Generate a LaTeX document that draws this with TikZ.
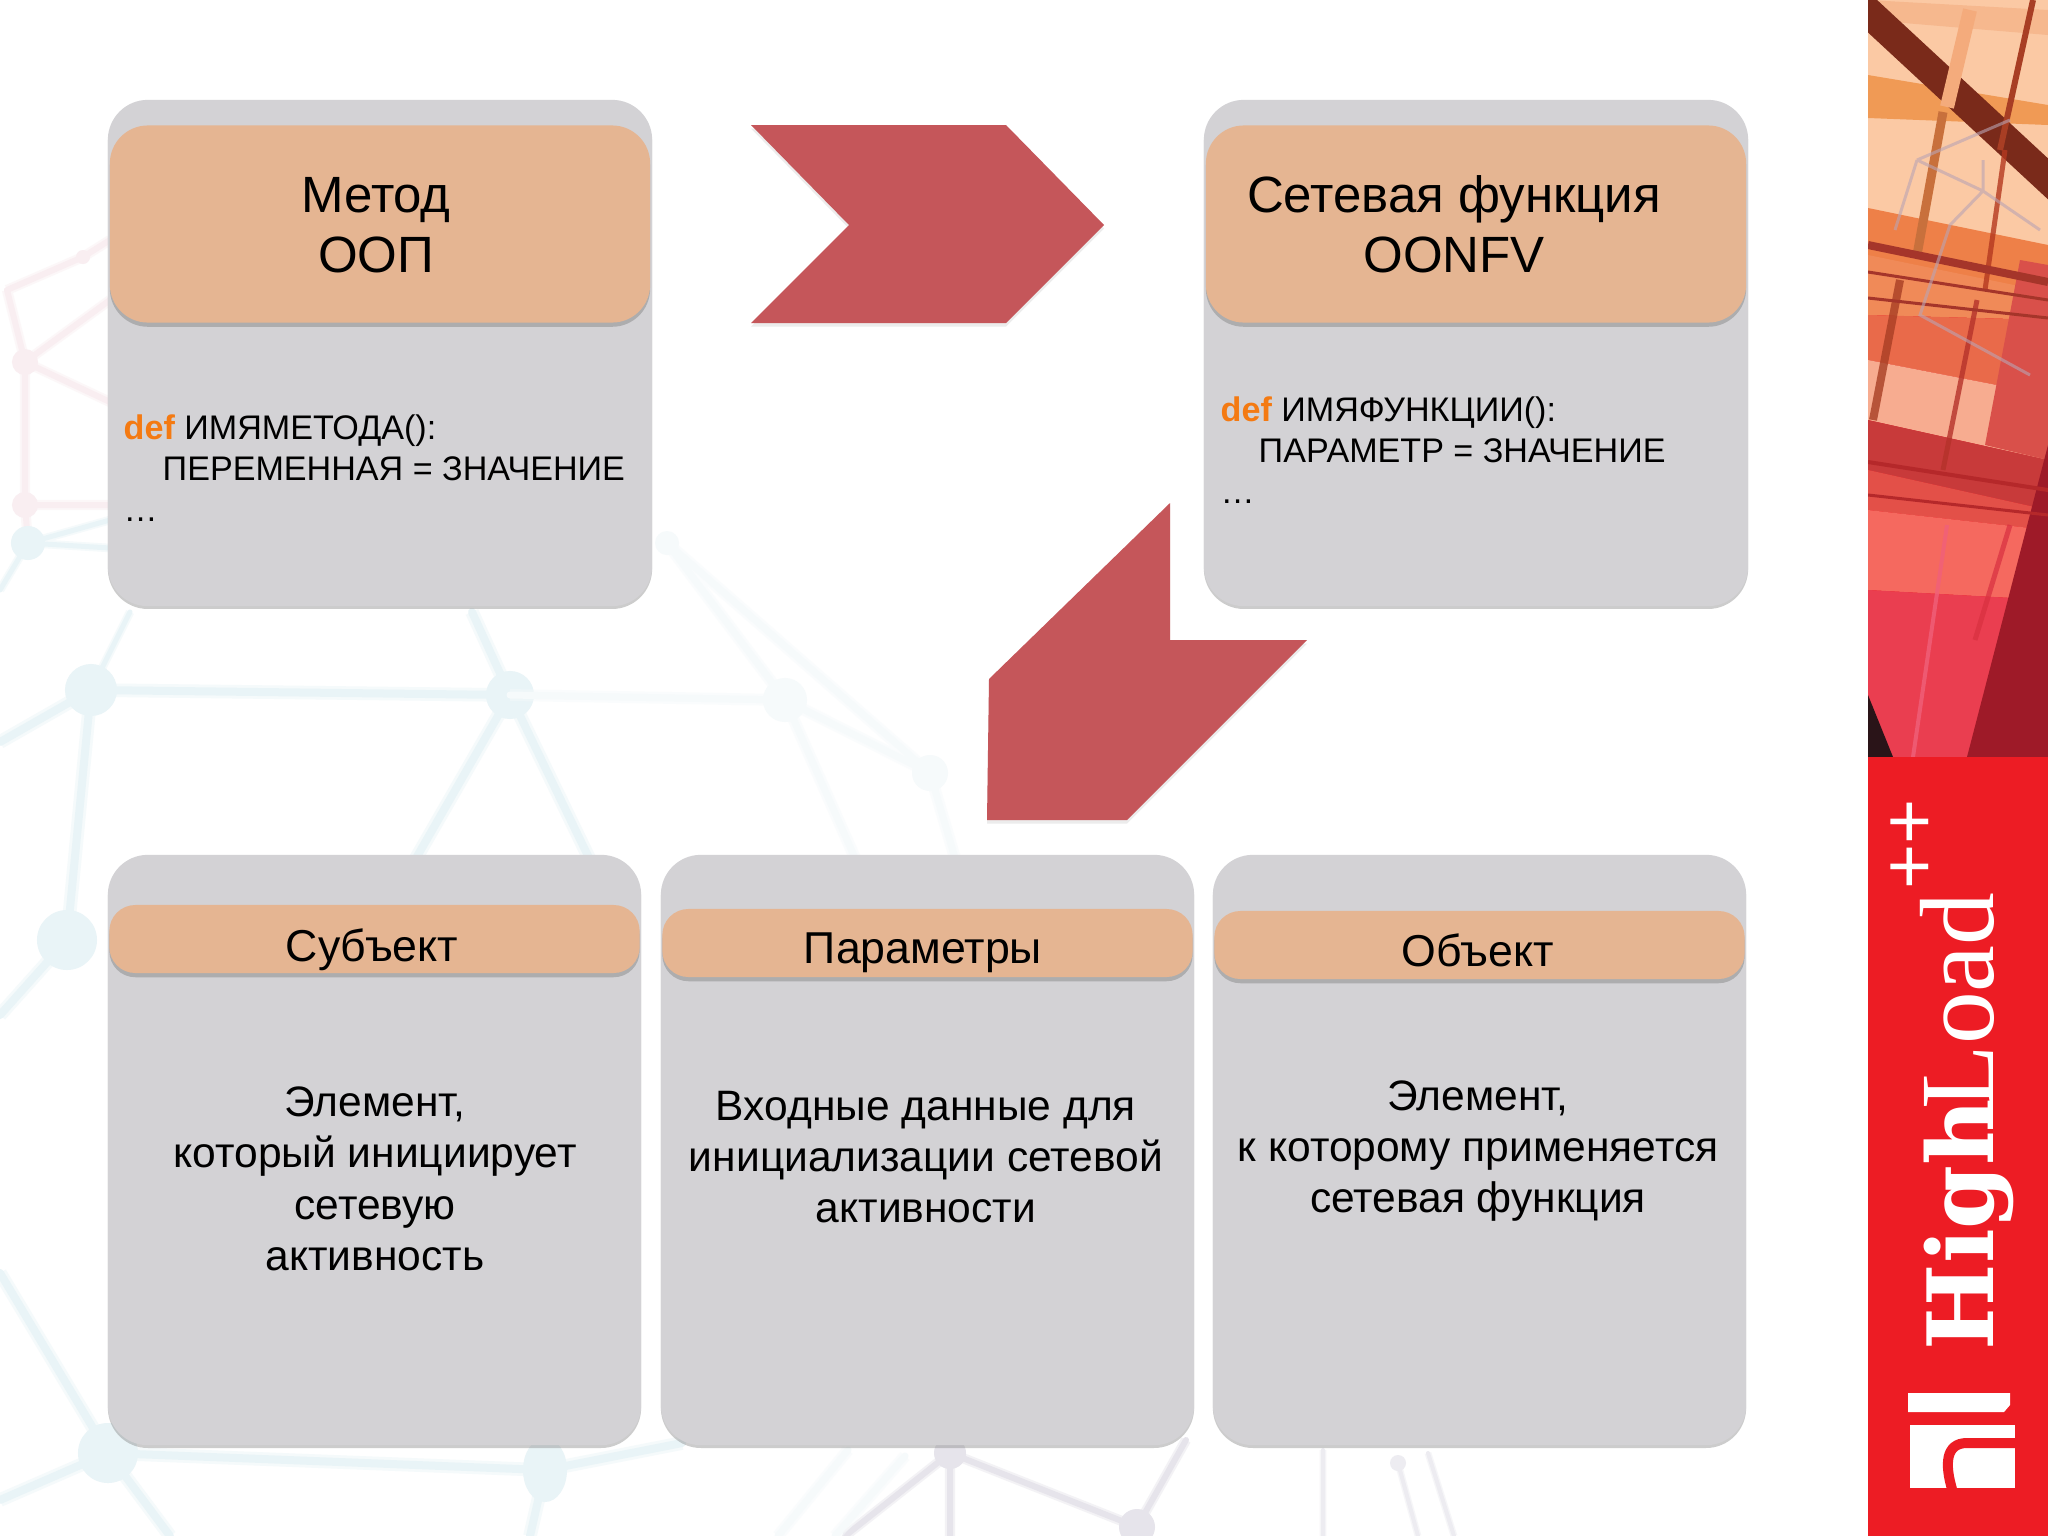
\documentclass[tikz,border=0pt]{standalone}
\usepackage{fontspec}
\setmainfont{Liberation Sans}
\newfontfamily\logoheavy{DejaVu Serif Bold}
\newfontfamily\logolight{Liberation Serif}
\usepackage{xcolor}
\usetikzlibrary{shadows}
\definecolor{cardgrey}{HTML}{D3D2D5}
\definecolor{headpeach}{HTML}{E5B592}
\definecolor{arrowred}{HTML}{C5565A}
\definecolor{codeorange}{HTML}{F47A12}
\definecolor{brandred}{HTML}{ED1C24}
\definecolor{netblue}{HTML}{E9F4F7}
\definecolor{netfaint}{HTML}{F6FAFB}
\definecolor{netpink}{HTML}{F9EEF1}
\definecolor{netgrey}{HTML}{E6E4EB}
\newcommand{\headfont}{\fontsize{14.5}{17.1}\selectfont}
\newcommand{\barfont}{\fontsize{12.7}{14.6}\selectfont}
\newcommand{\bodyfont}{\fontsize{12.1}{14.6}\selectfont}
\newcommand{\codefont}{\fontsize{9.7}{11.6}\selectfont}

\begin{document}
\begin{tikzpicture}[x=0.01cm, y=-0.01cm,
    card/.style={fill=cardgrey, rounded corners=4mm, inner sep=0pt,
        drop shadow={shadow xshift=0pt, shadow yshift=-0.8pt, opacity=0.4}},
    headbar/.style={fill=headpeach, inner sep=0pt,
        drop shadow={shadow xshift=0pt, shadow yshift=-1.2pt, opacity=0.45}},
    bigbar/.style={headbar, rounded corners=3.8mm, minimum width=5.40cm, minimum height=1.97cm},
    smallbar/.style={headbar, rounded corners=2.6mm, minimum height=0.68cm, minimum width=5.30cm},
    blockarrow/.style={fill=arrowred, drop shadow={shadow xshift=0pt, shadow yshift=-1pt, opacity=0.15}},
    caption/.style={align=center, text=black, inner sep=0pt},
    codetext/.style={align=left, anchor=north west, inner sep=0pt, font=\codefont},
    netline/.style 2 args={draw=#1, line width=#2, line cap=round,
        preaction={draw=#1, line width=1.7*#2, opacity=0.45}},
    hex/.code={\definecolor{hexc}{HTML}{#1}\pgfkeysalso{/tikz/color=hexc}},
]
    \useasboundingbox (0,0) rectangle (2048,1536);
    \fill[white] (0,0) rectangle (2048,1536);

    % Background network, left part
    \coordinate (pa) at (25,362);
    \coordinate (pb) at (25,505);
    \coordinate (pc) at (7,290);
    \coordinate (pd) at (83,257);
    \coordinate (na) at (28,543);
    \coordinate (nc) at (91,690);
    \coordinate (nd) at (510,695);
    \coordinate (ne) at (67,940);
    \coordinate (nf) at (108,1453);
    \coordinate (ng) at (545,1470);
    \coordinate (nh) at (682,1443);
    \draw[netline={netpink}{0.6mm}] (pa) -- (pb) (pb) -- (110,505) (pa) -- (110,402) (pa) -- (110,300)
        (pa) -- (pc) (pc) -- (pd) (pd) -- (110,240) (pb) -- (na);
    \draw[netline={netblue}{0.5mm}] (na) -- (110,520) (na) -- (110,548) (na) -- (0,590) (nc) -- (130,612);
    \draw[netline={netblue}{0.8mm}] (nc) -- (0,742) (nc) -- (ne) (nc) -- (nd) (nd) -- (472,612)
        (nd) -- (590,860) (nd) -- (415,860) (ne) -- (0,1015) (0,1273) -- (nf) (nf) -- (0,1500)
        (nf) -- (170,1536) (nf) -- (ng) (ng) -- (530,1536) (ng) -- (nh);
    \fill[netblue] (nc) circle (2.6mm) (nd) circle (2.4mm) (ne) circle (3mm) (nf) circle (3mm)
        (ng) ellipse (2.2mm and 3.2mm) (na) circle (1.7mm);
    \fill[netpink] (pa) circle (1.3mm) (pb) circle (1.3mm) (pd) circle (0.7mm);

    % Background network, faint middle part
    \coordinate (fa) at (667,543);
    \coordinate (fb) at (785,700);
    \coordinate (fc) at (930,773);
    \draw[netline={netfaint}{0.7mm}] (nd) -- (fb) (fa) -- (fc) (fa) -- (fb) (fb) -- (fc) (fb) -- (855,858)
        (fc) -- (955,858);
    \fill[netfaint] (fb) circle (2.2mm) (fc) circle (1.8mm) (fa) circle (1.2mm);

    % Background network, grey part at the bottom
    \coordinate (ga) at (950,1453);
    \coordinate (gb) at (1137,1527);
    \coordinate (gc) at (1398,1463);
    \draw[netline={netgrey}{0.6mm}] (ga) -- (950,1536) (ga) -- (845,1536) (ga) -- (gb) (gb) -- (1186,1440);
    \draw[netline={netfaint}{0.7mm}] (848,1450) -- (778,1536) (905,1456) -- (835,1536);
    \draw[netline={netgrey!70}{0.4mm}] (1323,1450) -- (1323,1536) (gc) -- (1418,1536) (1428,1453) -- (1454,1536);
    \fill[netgrey] (ga) circle (1.6mm) (gb) circle (1.8mm);
    \fill[netgrey!70] (gc) circle (0.8mm);

    % Method card
    \node[card, minimum width=5.44cm, minimum height=5.06cm] (methodcard) at (380,353) {};
    \node[bigbar] (methodbar) at (380,224) {};
    \node[caption, font=\headfont] (methodname) at (376,225) {Метод\\ООП};
    \node[codetext] (methodcode) at (123,414) {\textcolor{codeorange}{\textbf{def}} ИМЯМЕТОДА():\\
        \hspace*{3.9mm}ПЕРЕМЕННАЯ = ЗНАЧЕНИЕ\\ \ldots};

    % Network function card
    \node[card, minimum width=5.44cm, minimum height=5.06cm] (funccard) at (1476,353) {};
    \node[bigbar] (funcbar) at (1476,224) {};
    \node[caption, font=\headfont] (funcname) at (1454,224) {Сетевая функция\\OONFV};
    \node[codetext] (funccode) at (1220,396) {\textcolor{codeorange}{\textbf{def}} ИМЯФУНКЦИИ():\\
        \hspace*{3.8mm}ПАРАМЕТР = ЗНАЧЕНИЕ\\ \ldots};

    % Arrows
    \path[blockarrow] (751,125) -- (1006,125) -- (1104,225) -- (1006,323) -- (751,323) -- (849,225) -- cycle;
    \path[blockarrow] (1170,503) -- (1170,640) -- (1307,640) -- (1127,820) -- (987,820) -- (989,679) -- cycle;

    % Subject card
    \node[card, minimum width=5.33cm, minimum height=5.90cm] (subjectcard) at (374.5,1150) {};
    \node[smallbar] (subjectbar) at (374.5,939) {};
    \node[caption, font=\barfont] (subjectname) at (372,950) {Субъект};
    \node[caption, font=\bodyfont] (subjecttext) at (375,1179) {Элемент,\\который инициирует\\сетевую\\активность};

    % Parameters card
    \node[card, minimum width=5.33cm, minimum height=5.90cm] (paramcard) at (927.5,1150) {};
    \node[smallbar] (parambar) at (927.5,943) {};
    \node[caption, font=\barfont] (paramname) at (923,953) {Параметры};
    \node[caption, font=\bodyfont] (paramtext) at (926,1157) {Входные данные для\\инициализации сетевой\\активности};

    % Object card
    \node[card, minimum width=5.33cm, minimum height=5.90cm] (objectcard) at (1479.5,1150) {};
    \node[smallbar] (objectbar) at (1479.5,945) {};
    \node[caption, font=\barfont] (objectname) at (1478,950) {Объект};
    \node[caption, font=\bodyfont] (objecttext) at (1478,1151) {Элемент,\\к которому применяется\\сетевая функция};

    % Photo strip on the right
    \begin{scope}
        \clip (1868,0) rectangle (2048,757);
        \fill[brandred] (1868,0) rectangle (2048,757);
        \fill[hex=FBC9A4] (1868,0) rectangle (2048,250);
        \fill[hex=F6B88E] (1868,0) -- (2048,10) -- (2048,35) -- (1868,20) -- cycle;
        \fill[hex=F09A55] (1868,75) -- (2048,105) -- (2048,125) -- (1868,118) -- cycle;
        \fill[hex=EE8048] (1868,208) -- (2048,245) -- (2048,300) -- (1868,290) -- cycle;
        \fill[hex=F08A58] (1868,255) -- (2048,292) -- (2048,320) -- (1868,315) -- cycle;
        \fill[hex=E96A4A] (1868,315) -- (2048,320) -- (2048,395) -- (1868,360) -- cycle;
        \fill[hex=F7AC90] (1868,360) -- (2048,395) -- (2048,460) -- (1868,420) -- cycle;
        \fill[hex=C83A3A] (1868,420) -- (2048,460) -- (2048,510) -- (1868,470) -- cycle;
        \fill[hex=E35048] (1868,470) -- (2048,510) -- (2048,530) -- (1868,510) -- cycle;
        \fill[hex=F5695F] (1868,510) -- (2048,530) -- (2048,600) -- (1868,590) -- cycle;
        \fill[hex=EA3E50] (1868,590) -- (2048,600) -- (2048,757) -- (1868,757) -- cycle;
        \fill[hex=D9504A] (2020,260) -- (2048,265) -- (2048,460) -- (1985,445) -- cycle;
        \fill[hex=9E1A28] (1967,757) -- (2048,445) -- (2048,757) -- cycle;
        % tilted bars
        \draw[hex=7A2A1A, line width=3mm] (1855,0) -- (2060,190);
        \draw[hex=F4AB7C, line width=1.4mm] (1970,10) -- (1947,107);
        \draw[hex=C8703C, line width=0.9mm] (1943,112) -- (1917,255);
        \draw[hex=A83E24, line width=0.6mm] (2033,0) -- (2000,150);
        \draw[hex=B4381F, line width=0.5mm, opacity=0.8] (2005,150) -- (1985,290);
        \draw[hex=A83E24, line width=0.8mm, opacity=0.8] (1900,280) -- (1873,420);
        \draw[hex=B5322A, line width=0.5mm, opacity=0.8] (1977,300) -- (1943,470);
        \draw[hex=F0607A, line width=0.4mm, opacity=0.8] (1947,525) -- (1913,757);
        \draw[hex=D83040, line width=0.5mm, opacity=0.7] (2010,525) -- (1975,640);
        % thin cross lines
        \draw[hex=A5352A, line width=0.8mm] (1868,245) -- (2048,282);
        \draw[hex=A5352A, line width=0.3mm] (1868,272) -- (2048,300);
        \draw[hex=A5352A, line width=0.3mm] (1868,298) -- (2048,318);
        \draw[hex=B5282A, line width=0.4mm] (1868,462) -- (2048,490);
        \draw[hex=B5282A, line width=0.3mm] (1868,495) -- (2048,515);
        % pale net over the photo
        \draw[hex=B9A4B4, line width=0.3mm, opacity=0.6] (1917,160) -- (1983,191) -- (2040,230)
            (1917,160) -- (2010,120) (1917,160) -- (1895,230) (1983,191) -- (1950,225)
            (1950,225) -- (1920,315) -- (2030,375) (1983,191) -- (1983,160);
        \fill[hex=2A1418] (1868,695) -- (1893,757) -- (1868,757) -- cycle;
    \end{scope}

    % Brand block
    \fill[brandred] (1868,757) rectangle (2048,1536);
    \node[anchor=base west, rotate=90, inner sep=0pt, text=white, font=\fontsize{26}{26}\selectfont\logoheavy] (brandhigh) at (1993,1351) {High};
    \node[anchor=base west, rotate=90, inner sep=0pt, text=white, font=\fontsize{30}{30}\selectfont\logolight] (brandload) at (1993,1110) {Load};
    \node[rotate=90, inner sep=0pt, text=white, font=\fontsize{22}{22}\selectfont] (brandplus) at (1913,844) {++};
    \fill[white] (1908,1393) -- (2010,1393) -- (2010,1405) -- (2004,1412) -- (1908,1412) -- cycle;
    \fill[white] (1910,1425) rectangle (2015,1488);
    \draw[brandred, line width=1mm] (2016,1443) -- (1967,1443) .. controls (1945,1443) and (1945,1465) .. (1952,1489);
\end{tikzpicture}
\end{document}
